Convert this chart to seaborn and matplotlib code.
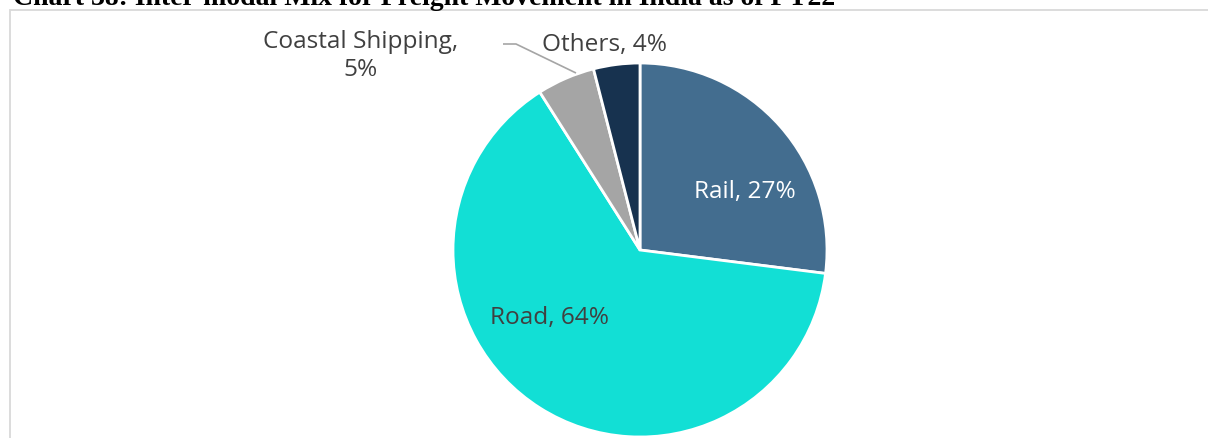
import matplotlib
matplotlib.use("Agg")
import matplotlib.pyplot as plt
import seaborn as sns

# Freight modal shares, FY22 (%)
modes = ["Rail", "Road", "Coastal Shipping", "Others"]
shares = [27, 64, 5, 4]
mode_colors = ["#436D8F", "#12DFD5", "#A5A5A5", "#17324F"]

title = "Chart 38: Inter-modal Mix for Freight Movement in India as of FY22"

sns.set_theme(style="white")
plt.rcParams["font.family"] = ["Open Sans", "DejaVu Sans"]

W, H = 1208, 438
fig = plt.figure(figsize=(W / 100, H / 100), dpi=100)
ax = fig.add_axes([0, 0, 1, 1])

palette = sns.color_palette(mode_colors)

# pixel-like coordinates: y measured from the top edge
def py(y):
    return H - y

cx, cy, r = 640, 250, 187
ax.pie(shares, colors=palette, startangle=90, counterclock=False,
       center=(cx, py(cy)), radius=r,
       wedgeprops=dict(edgecolor="white", linewidth=2.0))

ax.set_xlim(0, W)
ax.set_ylim(0, H)
ax.set_aspect("auto")
ax.axis("off")

# chart frame
frame = plt.Rectangle((10, py(10) - 600), 1400, 600, fill=False,
                      edgecolor="#D9D9D9", linewidth=1.3)
ax.add_patch(frame)

# title (sits above the frame)
ax.text(13, py(5), title, family=["Liberation Serif"], fontweight="bold",
        fontsize=20, color="black", ha="left", va="baseline")

lab_size = 17.6
dark = "#404040"
ax.text(745, py(192), f"{modes[0]}, {shares[0]}%", color="white",
        fontsize=lab_size, ha="center", va="center")
ax.text(549, py(318), f"{modes[1]}, {shares[1]}%", color=dark,
        fontsize=lab_size, ha="center", va="center")
ax.text(361, py(56), f"{modes[2]},\n{shares[2]}%", color=dark,
        fontsize=lab_size, ha="center", va="center", linespacing=1.2)
ax.text(605, py(45), f"{modes[3]}, {shares[3]}%", color=dark,
        fontsize=lab_size, ha="center", va="center")

# leader line for the coastal shipping label
ax.plot([503, 516, 576], [py(44), py(44), py(73)], color="#A5A5A5",
        linewidth=1.2, solid_capstyle="butt")

fig.savefig("out.png", dpi=100)
